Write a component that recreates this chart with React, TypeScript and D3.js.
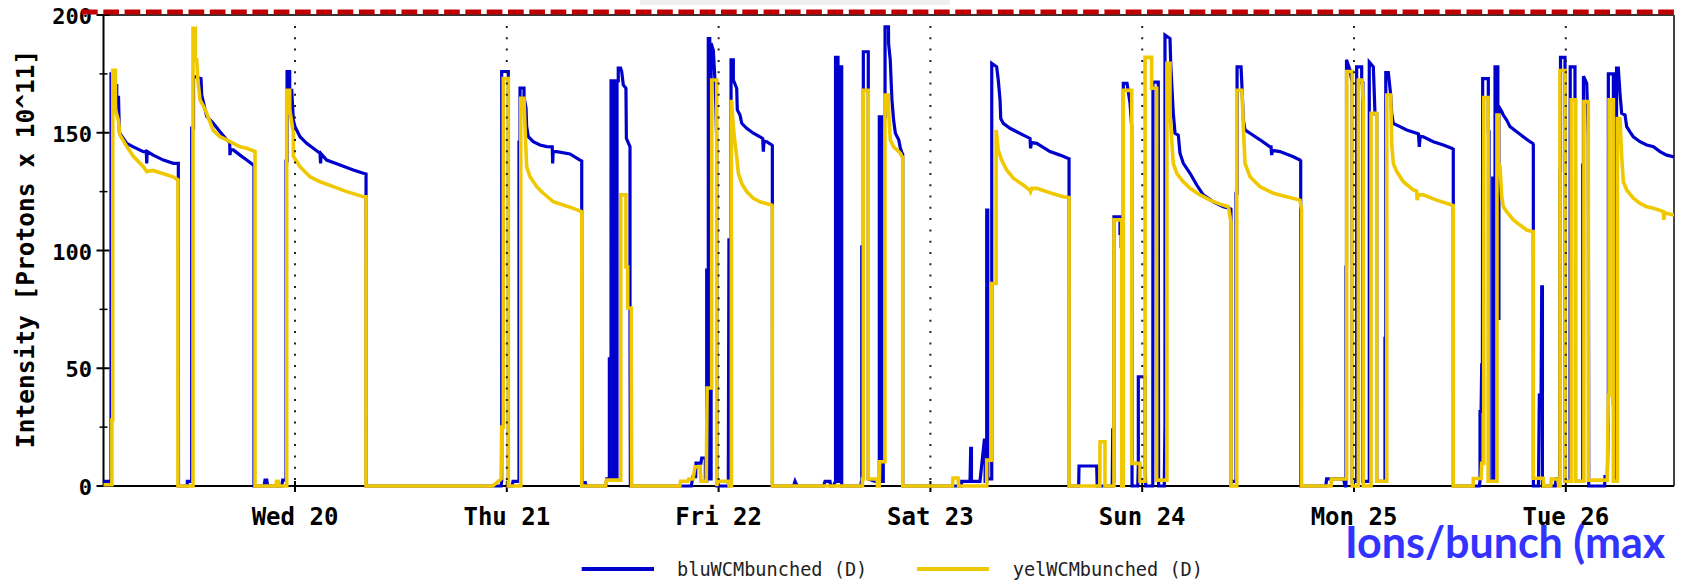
import React from "react";
import * as d3 from "d3";

// ---- data ----
const dayLabels = ["Wed 20", "Thu 21", "Fri 22", "Sat 23", "Sun 24", "Mon 25", "Tue 26"];
const dayHours = [0, 24, 48, 72, 96, 120, 144]; // hours after Wed 20 00:00
const yMajorTicks = [0, 50, 100, 150, 200];
const yMinorTicks = [25, 75, 125, 175];
const timeDomain: [number, number] = [-21.7, 156.26];
const valueDomain: [number, number] = [0, 200];
const maxLineValue = 201.3;
const seriesNames = ["bluWCMbunched (D)", "yelWCMbunched (D)"];
const yAxisTitle = "Intensity [Protons x 10^11]";
const overlayText = "Ions/bunch (max";

// [hours after Wed 20 00:00, intensity]
const blueSeries: [number, number][] = [
  [-21.7, 2],
  [-20.85, 2], [-20.85, 175], [-20.45, 175], [-20.45, 170], [-20.2, 170], [-20.2, 165], [-20.0, 165], [-19.9, 150], [-19.07, 145.5], [-18.32, 144], [-17.19, 142], [-16.85, 142], [-16.8, 137], [-16.75, 142], [-16.06, 140.5], [-14.92, 138.4], [-13.79, 137], [-13.22, 137], [-13.22, 130], [-13.2, 0],
  [-12.2, 0], [-12.2, 2], [-11.71, 2], [-11.71, 152], [-11.5, 152], [-11.5, 174], [-10.65, 173], [-10.57, 166], [-10.2, 160], [-10.01, 157], [-9.26, 154], [-8.5, 150.4], [-7.74, 147], [-7.4, 146], [-7.37, 140.5], [-7.3, 142.7], [-6.99, 142.7], [-6.23, 140.5], [-5.47, 138.4], [-4.73, 136.3], [-4.65, 136], [-4.65, 0],
  [-3.5, 0], [-3.4, 2.5], [-3.2, 2.5], [-3.1, 0], [-1.5, 0], [-1.4, 2.5], [-1.02, 2.5], [-1.02, 138], [-0.9, 138], [-0.9, 176], [-0.6, 176], [-0.6, 168], [-0.37, 168], [-0.19, 155.4], [0, 152.6], [0.57, 148.3], [1.32, 145.5], [2.83, 141.3], [2.9, 137], [2.97, 141], [3.59, 138.4], [5.1, 136.3], [6.61, 134.2], [7.74, 132.8], [8.05, 132.5], [8.05, 122.8], [8.07, 0],
  [23.35, 0], [23.42, 2], [23.42, 176], [24.17, 176], [24.17, 0], [24.6, 0], [24.7, 2], [25.38, 2], [25.38, 146], [25.5, 146], [25.5, 169], [25.95, 169], [25.95, 165.3], [26.18, 160.4], [26.25, 152.6], [26.44, 148.3], [27.0, 146.2], [27.76, 144.8], [28.52, 144.1], [29.15, 144], [29.2, 137], [29.25, 142], [29.66, 142], [31.16, 141], [32.29, 138.4], [32.49, 138], [32.49, 116.5], [32.51, 0],
  [32.8, 0], [32.86, 2], [33.0, 0], [35.2, 0], [35.32, 3], [35.62, 3], [35.62, 54], [35.81, 54], [35.81, 172], [35.98, 172], [35.98, 3], [36.15, 3], [36.15, 172], [36.32, 172], [36.32, 3], [36.49, 3], [36.49, 172], [36.63, 172], [36.63, 177.4], [36.9, 177.4], [37.02, 176], [37.2, 170.3], [37.5, 168.9], [37.55, 147.6], [37.88, 144.8], [37.96, 144], [37.96, 60], [38.0, 0],
  [44.9, 0], [45.1, 4], [45.4, 4], [45.44, 9.7], [46.0, 9.7], [46.08, 11.9], [46.5, 11.9], [46.5, 2], [46.65, 2], [46.65, 91.7], [46.75, 91.7], [46.75, 3], [46.83, 3], [46.83, 190], [47.0, 190], [47.0, 3], [47.15, 3], [47.15, 188], [47.4, 185], [47.59, 172], [47.7, 160], [47.79, 145.6], [47.8, 0],
  [49.1, 0], [49.17, 104.5], [49.25, 104.5], [49.25, 3], [49.41, 3], [49.41, 181], [49.67, 181], [49.67, 172.4], [50.05, 168.9], [50.12, 159.7], [50.43, 157.5], [50.62, 154], [51.18, 151.9], [51.94, 149.8], [52.69, 148.3], [53.0, 147.5], [53.07, 142], [53.15, 146.5], [53.45, 146.2], [54.02, 144.8], [54.09, 144.5], [54.09, 120], [54.1, 0],
  [56.5, 0], [56.66, 2], [56.9, 0], [59.9, 0], [60.06, 2], [60.62, 2], [60.7, 0], [61.0, 0], [61.25, 2], [61.25, 182], [61.53, 182], [61.53, 2], [61.81, 2], [61.81, 178], [61.95, 178], [61.95, 0],
  [64.1, 0], [64.22, 3], [64.22, 101.6], [64.4, 101.6], [64.4, 184.4], [64.96, 184.4], [64.96, 3], [65.7, 2], [66.21, 2], [66.21, 156.8], [66.5, 156.8], [66.5, 2], [66.66, 2], [66.66, 156.8], [66.86, 156.8], [66.86, 195], [67.25, 195], [67.26, 188], [67.45, 181], [67.64, 164], [67.83, 155.4], [68.03, 149.8], [68.41, 147], [68.6, 143.4], [68.79, 141.3], [68.86, 141], [68.86, 0],
  [75.5, 0], [75.55, 2], [76.49, 2], [76.57, 16], [76.65, 16], [76.65, 2], [77.62, 2], [78.11, 19.5], [78.2, 19.5], [78.2, 2], [78.38, 2], [78.38, 117.2], [78.5, 117.2], [78.5, 3], [78.95, 3], [78.95, 179.5], [79.51, 178], [79.69, 172.4], [79.89, 164], [79.97, 156], [80.26, 154], [81.02, 151.9], [82.53, 149], [83.29, 147.6], [83.35, 143.4], [83.45, 145.8], [84.05, 145.5], [85.55, 142], [86.69, 140.5], [87.63, 139.1], [87.71, 139], [87.71, 122.8], [87.72, 0],
  [88.8, 0], [88.84, 8.5], [90.84, 8.5], [90.9, 0], [92.6, 0], [92.66, 23.8], [92.75, 23.8], [92.75, 2], [92.8, 2], [92.8, 114.3], [93.48, 114.3], [93.48, 107.3], [93.62, 107.3], [93.62, 101.6], [93.68, 101.6], [93.68, 2], [93.75, 2], [93.75, 28], [93.82, 28], [93.82, 2], [93.86, 2], [93.86, 171], [94.28, 171], [94.62, 162.5], [94.81, 152.6], [94.85, 0], [95.5, 0], [95.56, 9], [95.56, 46.4], [96.32, 46.4], [96.32, 9], [96.4, 0], [97.2, 0], [97.22, 171.5], [97.82, 171.5], [97.82, 166.5], [97.86, 0],
  [98.5, 0], [98.58, 26.6], [98.58, 191.5], [99.15, 190], [99.23, 179.5], [99.52, 158.3], [99.72, 149.8], [100.09, 149], [100.28, 141.3], [100.66, 137], [101.42, 132.8], [102.18, 127.8], [102.92, 123.6], [104.06, 120.7], [105.19, 118.6], [105.95, 117.9], [106.06, 117.5], [106.06, 0],
  [106.1, 2], [106.63, 2], [106.63, 124.3], [106.75, 124.3], [106.75, 178], [107.2, 178], [107.27, 172.4], [107.46, 155.4], [107.65, 151.2], [108.22, 149.8], [109.35, 147], [110.48, 144], [110.6, 144], [110.67, 140.5], [110.75, 142.5], [111.61, 142], [113.12, 139.8], [113.88, 138.4], [113.96, 138], [113.96, 121.4], [113.97, 0],
  [116.8, 0], [116.9, 3], [118.8, 3], [119.0, 0], [119.09, 0], [119.09, 93], [119.15, 93], [119.15, 181], [119.55, 176.6], [119.74, 172.4], [119.8, 172.4], [119.8, 2], [120.3, 2], [120.3, 178], [120.87, 178], [120.87, 171.2], [121.0, 171.2], [121.0, 2], [121.73, 2], [121.73, 180], [122.19, 178], [122.38, 158], [122.57, 158], [122.57, 2], [123.51, 2], [123.51, 62.7], [123.6, 62.7], [123.6, 175.5], [123.89, 175.5], [124.16, 166], [124.27, 158.3], [124.45, 154], [125.21, 152.6], [125.97, 151.2], [127.1, 149.8], [127.3, 149.5], [127.4, 144], [127.5, 148.5], [127.85, 148.3], [128.99, 146.2], [130.12, 144.8], [131.07, 143.4], [131.25, 143], [131.25, 119.3], [131.26, 0],
  [134.2, 0], [134.28, 2], [134.28, 31.6], [134.4, 31.6], [134.47, 51.4], [134.55, 51.4], [134.58, 173], [135.22, 173], [135.22, 150.4], [135.3, 150.4], [135.3, 2], [135.72, 2], [135.72, 130.7], [135.8, 130.7], [135.8, 2], [135.98, 2], [135.98, 178], [136.3, 178], [136.3, 71.2], [136.42, 71.2], [136.42, 161], [136.74, 159], [136.92, 157.5], [137.3, 155.4], [137.68, 152.6], [138.44, 150.4], [139.18, 148.3], [139.94, 146.2], [140.25, 145.5], [140.32, 145], [140.32, 108], [140.33, 0],
  [140.9, 0], [141.0, 38.6], [141.2, 38.6], [141.27, 84.6], [141.35, 84.6], [141.35, 0], [142.8, 0], [142.89, 3], [143.3, 3], [143.34, 134], [143.4, 134], [143.4, 182], [143.91, 182], [143.91, 2], [144.48, 2], [144.48, 47.8], [144.5, 178], [145.04, 178], [145.04, 164], [145.1, 164], [145.1, 2], [145.92, 2], [145.92, 136.3], [146.0, 136.3], [146.0, 174], [146.37, 171], [146.55, 147.6], [146.6, 0], [148.4, 0], [148.44, 4], [148.7, 4], [148.82, 27.3], [148.82, 175], [149.39, 175], [149.39, 35], [149.45, 35], [149.45, 2], [149.69, 2], [149.69, 120.7], [149.75, 120.7], [149.75, 177.4], [149.95, 177.4], [150.14, 166.7], [150.33, 158.3], [150.71, 157.5], [150.9, 152.6], [151.27, 150.4], [151.65, 148.3], [152.41, 146.2], [153.17, 144.8], [153.93, 144.1], [154.67, 142], [155.43, 140.5], [156.18, 139.8], [156.26, 139.5],
];

const yellowSeries: [number, number][] = [
  [-21.7, 0.5], [-20.75, 0.5], [-20.75, 28], [-20.65, 28], [-20.65, 176.5], [-20.35, 176.5], [-20.35, 160], [-20.0, 155], [-19.83, 149], [-19.04, 144], [-18.32, 140], [-17.19, 135.6], [-16.8, 133.5], [-16.09, 134], [-13.82, 131.3], [-13.26, 130], [-13.26, 0],
  [-11.56, 0], [-11.56, 194.4], [-11.3, 194.4], [-11.3, 181], [-11.14, 181], [-11.0, 172], [-10.76, 164], [-10.2, 160], [-9.26, 151], [-8.5, 148.3], [-7.74, 147], [-6.99, 145.5], [-6.23, 144], [-5.47, 143.4], [-4.53, 142], [-4.53, 0],
  [-2.2, 0], [-2.1, 2], [-1.9, 2], [-1.8, 0], [-0.94, 0], [-0.94, 168], [-0.6, 168], [-0.6, 160], [-0.19, 150], [-0.19, 140], [0.57, 135.6], [1.7, 131.3], [2.83, 129.2], [4.34, 127.1], [5.86, 125], [7.74, 122.8], [8.05, 122.8], [8.05, 0],
  [22.4, 0], [22.9, 1.5], [23.35, 3], [23.42, 25], [23.6, 25], [23.6, 173], [24.17, 173], [24.17, 0],
  [25.58, 0], [25.58, 164.6], [25.95, 164.6], [26.06, 152.6], [26.25, 135.6], [26.63, 131.3], [27.39, 127.1], [28.14, 124.3], [29.27, 120.7], [30.4, 119.3], [31.54, 117.9], [32.49, 116.5], [32.49, 0],
  [35.2, 0], [35.3, 2.5], [36.91, 2.5], [36.91, 123.6], [37.5, 123.6], [37.5, 93], [37.7, 93], [37.7, 75.6], [38.1, 75.6], [38.1, 60], [38.15, 0],
  [43.6, 0], [43.7, 2], [44.5, 2], [44.6, 3], [45.1, 3], [45.33, 8.2], [45.9, 8.2], [46.0, 2], [46.6, 2], [46.7, 41.6], [47.22, 41.6], [47.22, 172.4], [47.79, 172.4], [47.79, 0], [47.9, 2], [49.07, 2], [49.2, 0],
  [49.45, 0], [49.45, 164], [49.67, 152.6], [49.86, 145.5], [50.05, 139.8], [50.24, 132.8], [50.62, 128.5], [51.18, 125], [51.94, 122.2], [52.69, 120.7], [54.02, 119.3], [54.09, 119], [54.09, 0],
  [64.3, 0], [64.3, 3], [64.4, 3], [64.4, 168], [64.96, 168], [64.96, 3], [65.95, 3], [66.0, 0], [66.2, 0], [66.25, 10.3], [66.85, 10.3], [66.85, 166], [67.24, 166], [67.26, 159.7], [67.45, 147], [67.83, 144], [68.22, 142.7], [68.6, 141.3], [68.79, 139.8], [68.86, 139.5], [68.86, 0],
  [74.5, 0], [74.56, 3.4], [75.13, 3.4], [75.2, 0], [78.38, 0], [78.38, 11], [78.9, 11], [78.9, 86], [79.45, 86], [79.45, 151.2], [79.69, 142.7], [80.07, 138.4], [80.64, 134.2], [81.39, 130.7], [82.53, 127.8], [83.29, 125.5], [83.35, 125], [83.5, 126.4], [84.05, 126.4], [85.55, 124.5], [87.06, 122.8], [87.71, 122.5], [87.71, 0],
  [91.2, 0], [91.22, 18.8], [91.78, 18.8], [91.78, 0], [92.8, 0], [92.8, 113], [93.68, 113], [93.68, 0], [93.86, 0], [93.86, 168], [94.81, 168], [94.81, 9.6], [95.75, 9.6], [95.75, 2], [96.32, 2], [96.32, 182], [97.07, 182], [97.07, 168.9], [97.64, 168.9], [97.64, 2.5], [98.8, 2.5], [98.8, 179.5], [99.15, 179.5], [99.15, 158.3], [99.34, 147], [99.52, 137], [99.91, 132.8], [100.66, 129.2], [101.42, 126.4], [102.55, 123.6], [103.68, 121.4], [104.82, 119.7], [105.76, 118.6], [106.06, 112], [106.06, 0],
  [106.71, 0], [106.71, 168], [107.3, 168], [107.46, 152.6], [107.65, 137], [108.22, 131.3], [109.35, 127.1], [110.48, 125], [110.86, 124.3], [112.37, 122.8], [113.88, 121.4], [114.05, 117.2], [114.05, 0],
  [117.4, 0], [117.44, 3], [119.17, 3], [119.17, 176], [119.8, 176], [119.8, 0], [120.49, 0], [120.49, 172.4], [120.9, 172.4], [121.05, 163], [121.05, 0], [121.93, 0], [121.93, 158.3], [122.57, 158.3], [122.57, 2], [123.71, 2], [123.71, 166], [124.16, 166], [124.27, 145.5], [124.45, 137], [124.84, 133.5], [125.59, 129.2], [126.72, 125.7], [127.1, 125.2], [127.15, 121.4], [127.3, 123.6], [127.85, 123.6], [129.37, 121.4], [131.07, 119.3], [131.25, 119], [131.25, 0],
  [133.5, 0], [133.52, 3.2], [134.4, 3.2], [134.47, 9.6], [134.7, 9.6], [134.7, 165], [135.2, 165], [135.2, 2], [136.2, 2], [136.2, 157.5], [136.38, 157.5], [136.38, 137], [136.55, 135.6], [136.74, 122.8], [136.92, 118.6], [137.3, 116.5], [138.06, 113], [138.81, 110.8], [139.57, 108.7], [140.25, 108], [140.32, 108], [140.32, 3.3], [141.45, 3.3], [141.5, 0], [142.3, 0], [142.35, 3], [143.1, 3], [143.2, 0], [143.34, 0], [143.34, 176.4], [143.91, 176.4], [143.91, 2], [144.6, 2], [144.6, 164], [145.1, 164], [145.1, 2], [146.05, 2], [146.05, 163.2], [146.55, 163.2], [146.55, 2.5], [148.7, 2.5], [148.82, 38.6], [148.9, 38.6], [148.9, 164], [149.39, 164], [149.39, 2], [149.85, 2], [149.85, 156], [150.14, 156], [150.33, 139.8], [150.52, 129.2], [150.9, 125.7], [151.65, 122.2], [152.41, 120], [153.17, 118.6], [153.93, 117.9], [155.05, 116.5], [155.1, 113], [155.2, 116], [156.18, 115.1], [156.26, 115],
];

// ---- layout ----
const W = 1681;
const H = 584;
const PL = 103.5;
const PR = 1674;
const PT = 15;
const PB = 486;
const BLUE = "#0000cc";
const YELLOW = "#f0c800";
const MONO = "'DejaVu Sans Mono', monospace";

export default function App() {
  const x = d3.scaleLinear().domain(timeDomain).range([PL, PR]);
  const y = d3.scaleLinear().domain(valueDomain).range([PB, PT]);
  const line = d3
    .line<[number, number]>()
    .x((d) => x(d[0]))
    .y((d) => y(d[1]));

  return (
    <svg
      width={W}
      height={H}
      viewBox={`0 0 ${W} ${H}`}
      style={{ position: "absolute", left: 0, top: 0, background: "#fff" }}
    >
      <defs>
        <clipPath id="plotClip">
          <rect x={PL - 1} y={0} width={PR - PL + 1} height={PB + 4} />
        </clipPath>
      </defs>
      <rect x={0} y={0} width={W} height={H} fill="#fff" />
      <rect x={640} y={0} width={310} height={5} fill="#f0f0f0" />

      {/* frame */}
      <line x1={PL} x2={PR} y1={PT} y2={PT} stroke="#333" strokeWidth={2} />
      <line x1={PR} x2={PR} y1={PT} y2={PB} stroke="#444" strokeWidth={2} />
      <line x1={PL} x2={PR} y1={PB} y2={PB} stroke="#000" strokeWidth={2} />
      <line x1={PL} x2={PL} y1={PT} y2={PB} stroke="#000" strokeWidth={2} />

      {/* y ticks */}
      {yMajorTicks.map((v) => (
        <g key={"yt" + v}>
          <line x1={PL - 7} x2={PL + 6} y1={y(v)} y2={y(v)} stroke="#000" strokeWidth={2} />
          <text
            x={92}
            y={y(v) + 9}
            textAnchor="end"
            fontFamily={MONO}
            fontWeight="bold"
            fontSize={22}
            fill="#000"
          >
            {v}
          </text>
        </g>
      ))}
      {yMinorTicks.map((v) => (
        <line key={"ym" + v} x1={PL - 4} x2={PL + 4} y1={y(v)} y2={y(v)} stroke="#000" strokeWidth={1.5} />
      ))}

      {/* x ticks + labels */}
      {dayHours.map((h, i) => (
        <g key={"xt" + h}>
          <line x1={x(h)} x2={x(h)} y1={PB - 5} y2={PB + 6} stroke="#000" strokeWidth={2} />
          <text
            x={x(h)}
            y={525}
            textAnchor="middle"
            fontFamily={MONO}
            fontWeight="bold"
            fontSize={24}
            fill="#000"
          >
            {dayLabels[i]}
          </text>
        </g>
      ))}

      {/* y title */}
      <text
        transform={`translate(33.5, 249) rotate(-90)`}
        textAnchor="middle"
        fontFamily={MONO}
        fontWeight="bold"
        fontSize={24.5}
        fill="#000"
      >
        {yAxisTitle}
      </text>

      {/* data */}
      <g clipPath="url(#plotClip)">
        <path d={line(blueSeries) || ""} fill="none" stroke={BLUE} strokeWidth={3.2} strokeLinejoin="miter" />
        <path d={line(yellowSeries) || ""} fill="none" stroke={YELLOW} strokeWidth={3.6} strokeLinejoin="miter" />
      </g>

      {/* dotted day grid on top */}
      {dayHours.map((h) => (
        <line
          key={"g" + h}
          x1={x(h)}
          x2={x(h)}
          y1={26}
          y2={PB}
          stroke="#222"
          strokeWidth={2}
          strokeDasharray="2 9.3"
        />
      ))}

      {/* max line */}
      <line
        x1={82}
        x2={1675}
        y1={y(maxLineValue)}
        y2={y(maxLineValue)}
        stroke="#c00000"
        strokeWidth={5}
        strokeDasharray="15.7 5.6"
      />

      {/* legend */}
      <line x1={581.7} x2={654} y1={569} y2={569} stroke={BLUE} strokeWidth={4} />
      <text x={677} y={576} fontFamily={MONO} fontSize={18.6} fill="#222">
        {seriesNames[0]}
      </text>
      <line x1={917} x2={989} y1={569} y2={569} stroke={YELLOW} strokeWidth={4} />
      <text x={1012.7} y={576} fontFamily={MONO} fontSize={18.6} fill="#222">
        {seriesNames[1]}
      </text>

      {/* overlay title */}
      <text x={1345} y={558} fontFamily="Lato, 'Open Sans', sans-serif" fontWeight="bold" fontSize={43} fill="#3333ff">
        {overlayText}
      </text>
    </svg>
  );
}
